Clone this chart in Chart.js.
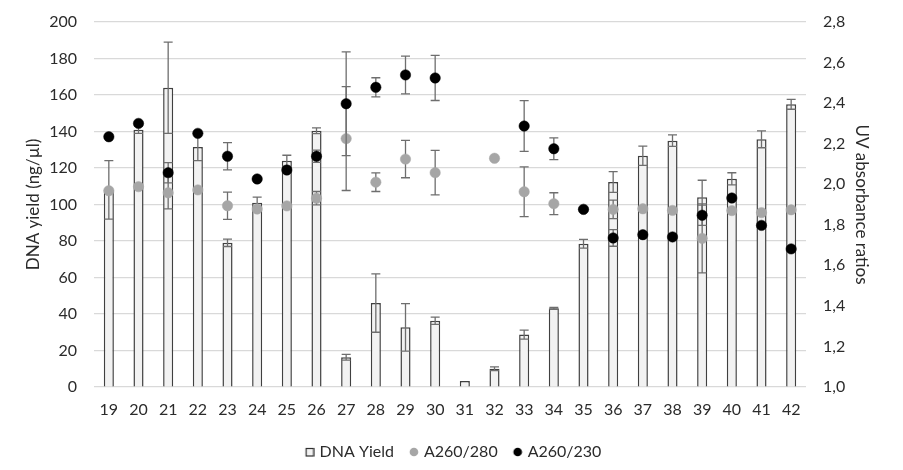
<!DOCTYPE html>
<html>
<head>
<meta charset="utf-8">
<script src="https://cdn.jsdelivr.net/npm/chart.js@4/dist/chart.umd.min.js"></script>
<style>
html,body{margin:0;padding:0;background:#fff;}
#wrap{width:903px;height:470px;position:relative;}
</style>
</head>
<body>
<div id="wrap"><canvas id="c" width="903" height="470"></canvas></div>
<script>
const categories = ['19','20','21','22','23','24','25','26','27','28','29','30','31','32','33','34','35','36','37','38','39','40','41','42'];
const dnaYield    = [108, 141, 164, 131.5, 79, 101, 124, 140.4, 16.3, 46, 32.7, 36.3, 3.3, 10, 28.7, 43.1, 78.5, 112.3, 126.7, 135, 104, 114.1, 135.7, 154.9];
const dnaYieldErr = [16, 2, 25, 7.5, 2, 3, 3, 1.6, 1.6, 16, 13, 2, 0, 1, 2.5, 0.5, 2.4, 5.7, 5.3, 3.1, 9.3, 3.3, 4.6, 2.7];
const a260280     = [1.968, 1.988, 1.958, 1.972, 1.894, 1.878, 1.893, 1.931, 2.225, 2.01, 2.124, 2.057, null, 2.128, 1.963, 1.904, 1.876, 1.876, 1.879, 1.871, 1.733, 1.87, 1.86, 1.874];
const a260280Err  = [0, 0, 0.08, 0, 0.067, 0, 0, 0.033, 0.256, 0.046, 0.092, 0.11, 0, 0, 0.123, 0.054, 0, 0.046, 0, 0, 0.17, 0, 0, 0];
const a260230     = [2.234, 2.30, 2.057, 2.251, 2.138, 2.026, 2.07, 2.138, 2.397, 2.478, 2.539, 2.524, null, null, 2.287, 2.175, 1.876, 1.735, 1.751, 1.74, 1.847, 1.932, 1.797, 1.681];
const a260230Err  = [0, 0, 0.05, 0, 0.067, 0, 0, 0.03, 0.256, 0.047, 0.093, 0.111, 0, 0, 0.125, 0.054, 0, 0.041, 0, 0, 0.05, 0, 0, 0];
const leftTicks  = ['0','20','40','60','80','100','120','140','160','180','200'];
const rightTicks = ['1,0','1,2','1,4','1,6','1,8','2,0','2,2','2,4','2,6','2,8'];

const FONT = 'Lato';
const TXT = '#2b2b2b';

function drawErrors(chart, idx) {
  const ds = chart.data.datasets[idx];
  const errs = ds.errors;
  if (!errs) return;
  const meta = chart.getDatasetMeta(idx);
  const ys = chart.scales[meta.yAxisID];
  const ctx = chart.ctx;
  ctx.save();
  ctx.strokeStyle = '#6e6e6e';
  ctx.lineWidth = 1.3;
  meta.data.forEach((el, i) => {
    const v = ds.data[i], e = errs[i];
    if (v == null || !e) return;
    const x = el.x;
    const y1 = ys.getPixelForValue(v + e);
    const y2 = ys.getPixelForValue(v - e);
    const cw = 4.5;
    ctx.beginPath();
    ctx.moveTo(x, y1); ctx.lineTo(x, y2);
    ctx.moveTo(x - cw, y1); ctx.lineTo(x + cw, y1);
    ctx.moveTo(x - cw, y2); ctx.lineTo(x + cw, y2);
    ctx.stroke();
  });
  ctx.restore();
}

const errorBars = {
  id: 'errorBars',
  beforeDatasetDraw(chart, args) {
    if (chart.data.datasets[args.index].type !== 'bar') drawErrors(chart, args.index);
  },
  afterDatasetDraw(chart, args) {
    if (chart.data.datasets[args.index].type === 'bar') drawErrors(chart, args.index);
  }
};

function legendIcon(kind) {
  const c = document.createElement('canvas');
  c.width = 16; c.height = 10;
  const g = c.getContext('2d');
  if (kind === 'box') {
    g.fillStyle = '#f2f2f2';
    g.fillRect(7, 1, 8, 8);
    g.strokeStyle = '#303030';
    g.lineWidth = 1.2;
    g.strokeRect(7.5, 1.5, 7.5, 7.5);
  } else {
    g.fillStyle = kind;
    g.beginPath();
    g.arc(11, 5, 4.3, 0, Math.PI * 2);
    g.fill();
  }
  return c;
}
const icons = [legendIcon('box'), legendIcon('#a6a6a6'), legendIcon('#000000')];

function fitY(width) {
  return (s) => { s.width = width; s.paddingTop = 0; s.paddingBottom = 0; };
}

new Chart(document.getElementById('c'), {
  data: {
    labels: categories,
    datasets: [
      {
        type: 'bar', label: 'DNA Yield', data: dnaYield, errors: dnaYieldErr,
        yAxisID: 'y', backgroundColor: '#f2f2f2', borderColor: '#404040', borderWidth: 1.5,
        categoryPercentage: 1, barPercentage: 0.34, order: 3
      },
      {
        type: 'line', label: 'A260/280', data: a260280, errors: a260280Err,
        yAxisID: 'y1', showLine: false, pointRadius: 5.2, pointHoverRadius: 5.2,
        pointBackgroundColor: '#a6a6a6', pointBorderColor: '#a6a6a6', pointBorderWidth: 0.5, order: 2
      },
      {
        type: 'line', label: 'A260/230', data: a260230, errors: a260230Err,
        yAxisID: 'y1', showLine: false, pointRadius: 5.2, pointHoverRadius: 5.2,
        pointBackgroundColor: '#000000', pointBorderColor: '#000000', pointBorderWidth: 0.5, order: 1
      }
    ]
  },
  options: {
    responsive: false,
    animation: false,
    layout: { padding: { top: 22, bottom: 0 } },
    plugins: {
      tooltip: { enabled: false },
      legend: {
        position: 'bottom',
        labels: {
          usePointStyle: true,
          boxWidth: 10, boxHeight: 10,
          padding: 12,
          color: TXT,
          font: { family: FONT, size: 16 },
          generateLabels(chart) {
            return chart.data.datasets.map((d, i) => ({
              text: d.label, pointStyle: icons[i], fontColor: TXT,
              fillStyle: 'transparent', strokeStyle: 'transparent', lineWidth: 0,
              hidden: false, datasetIndex: i
            }));
          }
        }
      }
    },
    scales: {
      x: {
        offset: true,
        grid: { display: false, drawTicks: false },
        border: { display: false },
        ticks: { color: TXT, font: { family: FONT, size: 16 }, padding: 13, maxRotation: 0 },
        afterFit(s) { s.height = 45; }
      },
      y: {
        position: 'left', min: 0, max: 200,
        ticks: { stepSize: 20, color: TXT, font: { family: FONT, size: 16 }, padding: 17,
                 callback: (v, i) => leftTicks[i] },
        grid: { color: '#d9d9d9', lineWidth: 1.2, drawTicks: false },
        border: { display: false },
        title: { display: true, text: 'DNA yield (ng/µl)', color: TXT,
                 font: { family: FONT, size: 17 }, padding: { top: 23, bottom: 0 } },
        afterFit: fitY(94)
      },
      y1: {
        position: 'right', min: 1.0, max: 2.8,
        ticks: { stepSize: 0.2, color: TXT, font: { family: FONT, size: 16 }, padding: 17,
                 callback: (v, i) => rightTicks[i] },
        grid: { display: false, drawTicks: false },
        border: { display: false },
        title: { display: true, text: 'UV absorbance ratios', color: TXT,
                 font: { family: FONT, size: 17 }, padding: { top: 31, bottom: 0 } },
        afterFit: fitY(97)
      }
    }
  },
  plugins: [errorBars]
});
</script>
</body>
</html>
